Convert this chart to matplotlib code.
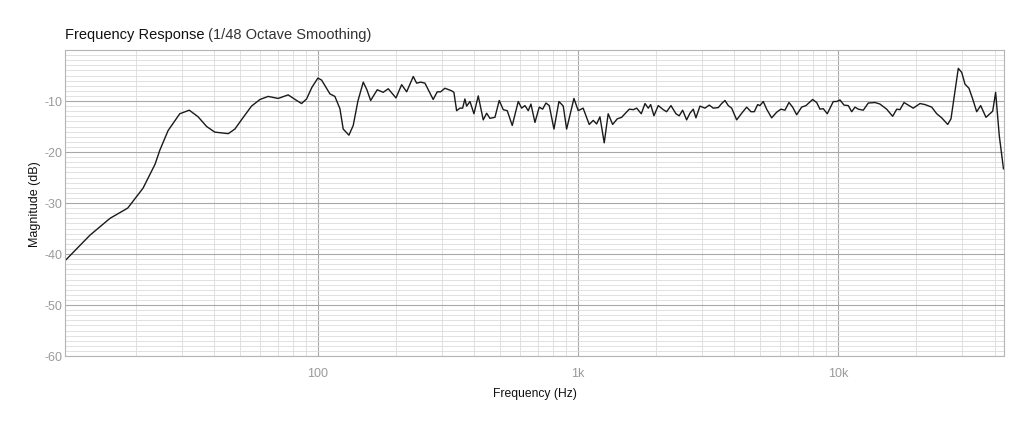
import numpy as np
import matplotlib
matplotlib.use('Agg')
import matplotlib.pyplot as plt
from matplotlib.ticker import FixedLocator, NullFormatter, MultipleLocator, LogLocator

plt.rcParams['font.family'] = ['Liberation Sans', 'DejaVu Sans']
plt.rcParams['axes.unicode_minus'] = False

# frequency (Hz) and magnitude (dB)
freq = [10.71, 13.29, 15.87, 18.56, 21.25, 23.64, 24.64, 26.53, 29.42, 32.02,
        34.62, 37.32, 40.12, 45.23, 47.93, 51.64, 55.55, 59.87, 64.38, 70.31,
        76.85, 82.28, 86.5, 90.43, 94.86, 100.0, 103.3, 111.2, 116.2, 121.5,
        125.1, 131.6, 136.7, 142.5, 149.4, 154.3, 159.5, 169.1, 178.3, 186.4,
        199.6, 209.9, 219.4, 232.6, 239.7, 248.3, 258.0, 277.5, 287.6, 296.4,
        307.9, 326.7, 333.4, 341.5, 351.6, 360.2, 367.5, 373.2, 384.4, 398.1,
        413.6, 432.3, 445.6, 458.7, 479.5, 498.1, 516.1, 534.7, 558.9, 589.4,
        607.5, 625.3, 644.0, 659.5, 683.3, 709.9, 731.4, 753.2, 775.6, 808.6,
        845.1, 878.0, 904.7, 965.1, 1002.5, 1047, 1105, 1145, 1180, 1215,
        1262, 1307, 1360, 1416, 1473, 1516, 1576, 1633, 1682, 1752,
        1811, 1864, 1904, 1960, 2036, 2129, 2193, 2279, 2382, 2452,
        2527, 2618, 2696, 2776, 2843, 2946, 3080, 3200, 3314, 3464,
        3570, 3676, 3785, 3901, 4078, 4263, 4455, 4628, 4766, 4912,
        5011, 5160, 5318, 5559, 5810, 6036, 6254, 6479, 6694, 6936,
        7250, 7532, 7993, 8281, 8525, 8778, 9096, 9594, 9886, 10179,
        10549, 10956, 11290, 11625, 11969, 12512, 13078, 13882, 14500, 15389,
        16228, 16826, 17318, 17947, 18639, 19479, 20676, 21611, 22933, 23974,
        25055, 26421, 27201, 27770, 29021, 29915, 30798, 31893, 32966, 34156,
        35379, 37088, 38424, 39352, 40396, 41717, 43300]
mag = [-41.2, -36.3, -33.0, -31.0, -27.1, -22.4, -19.7, -15.8, -12.5, -11.8,
       -13.1, -15.0, -16.1, -16.4, -15.5, -13.2, -11.0, -9.7, -9.1, -9.5,
       -8.8, -9.8, -10.5, -9.6, -7.3, -5.5, -5.9, -8.6, -9.1, -11.5,
       -15.5, -16.7, -14.8, -10.0, -6.3, -7.8, -9.9, -7.8, -8.3, -7.6,
       -9.4, -6.8, -8.2, -5.2, -6.5, -6.3, -6.5, -9.7, -8.2, -8.2,
       -7.5, -8.0, -8.3, -11.9, -11.4, -11.4, -9.6, -11.0, -10.1, -12.5,
       -9.0, -13.7, -12.4, -13.4, -13.2, -9.9, -11.7, -11.9, -14.8, -10.1,
       -11.4, -10.9, -11.9, -10.6, -14.2, -11.2, -11.6, -10.4, -10.9, -15.5,
       -10.1, -11.0, -15.5, -9.5, -11.9, -11.4, -14.6, -13.8, -14.5, -13.1,
       -18.2, -12.5, -14.6, -13.5, -13.2, -12.5, -11.6, -11.7, -11.4, -12.5,
       -10.5, -11.4, -10.7, -12.9, -10.9, -11.7, -12.1, -10.9, -12.5, -12.9,
       -11.8, -13.7, -12.4, -11.6, -13.3, -11.0, -11.4, -10.8, -11.4, -11.3,
       -10.5, -9.9, -10.9, -11.4, -13.7, -12.4, -11.2, -12.1, -12.1, -10.7,
       -10.9, -10.1, -11.6, -13.3, -12.2, -11.6, -11.8, -10.3, -11.2, -12.7,
       -11.2, -10.9, -9.7, -10.3, -11.6, -11.5, -12.5, -10.1, -10.1, -9.8,
       -10.8, -10.9, -12.1, -11.2, -11.6, -11.8, -10.4, -10.3, -10.6, -11.6,
       -13.0, -11.6, -11.7, -10.3, -10.8, -11.4, -10.5, -10.7, -11.2, -12.5,
       -13.3, -14.6, -13.5, -10.3, -3.6, -4.4, -6.7, -7.5, -9.6, -12.1,
       -10.9, -13.2, -12.5, -12.0, -8.3, -16.8, -23.3]

x_ticks = [100, 1000, 10000]
x_labels = ['100', '1k', '10k']
y_ticks = [-60, -50, -40, -30, -20, -10]

fig = plt.figure(figsize=(10.24, 4.27), dpi=100)
ax = fig.add_axes([65/1024, 1-357/427, (1004-65)/1024, (357-51)/427])

ax.plot(freq, mag, color='#1a1a1a', lw=1.0)

ax.set_xscale('log')
ax.set_xlim(10.65, 43500)
ax.set_ylim(-60, 0)

ax.xaxis.set_major_locator(FixedLocator(x_ticks))
ax.set_xticklabels(x_labels)
ax.xaxis.set_minor_locator(LogLocator(base=10, subs=np.arange(2, 10)))
ax.xaxis.set_minor_formatter(NullFormatter())
ax.set_yticks(y_ticks)
ax.yaxis.set_minor_locator(MultipleLocator(1))

ax.grid(which='major', color='#a8a8a8', lw=0.8)
ax.grid(which='minor', color='#dcdcdc', lw=0.6)
ax.set_axisbelow(True)

ax.tick_params(which='both', length=0, labelsize=9, labelcolor='#9a9a9a')
ax.tick_params(axis='y', pad=2)
ax.tick_params(axis='x', pad=8)
for s in ax.spines.values():
    s.set_color('#b5b5b5')
    s.set_linewidth(0.8)

ax.set_xlabel('Frequency (Hz)', fontsize=8.7, color='#111111', labelpad=6)
ax.set_ylabel('Magnitude (dB)', fontsize=9, color='#111111', labelpad=2)

t1 = fig.text(65/1024, 1-35/427, 'Frequency Response', fontsize=10.5,
              color='#111111', va='center', ha='left')
ax.annotate(' (1/48 Octave Smoothing)', xy=(1, 0), xycoords=t1,
            va='bottom', ha='left', fontsize=10.5, color='#333333')

fig.savefig('out.png', dpi=100)
